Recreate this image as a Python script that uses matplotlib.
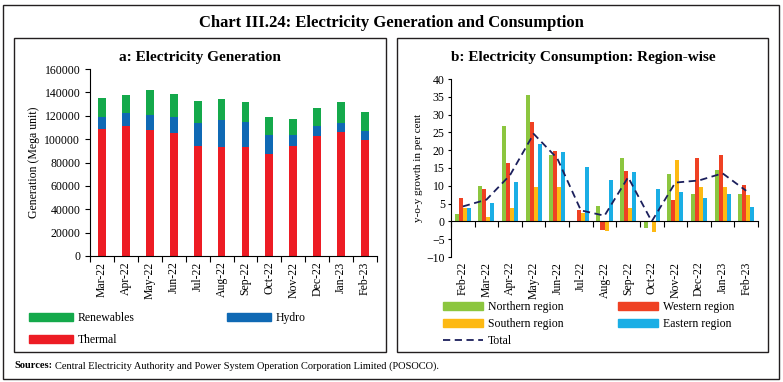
import numpy as np
import matplotlib
matplotlib.use('Agg')
import matplotlib.pyplot as plt
from matplotlib.patches import Rectangle
from matplotlib.lines import Line2D

plt.rcParams['font.family'] = ['Liberation Serif', 'DejaVu Serif']

# panel a: electricity generation (Mega unit)
gen_months = ['Mar-22', 'Apr-22', 'May-22', 'Jun-22', 'Jul-22', 'Aug-22',
              'Sep-22', 'Oct-22', 'Nov-22', 'Dec-22', 'Jan-23', 'Feb-23']
thermal = [108300, 111200, 108000, 104900, 94300, 92900, 93100, 87700, 94300, 102800, 106300, 99100]
hydro = [10800, 11400, 12600, 14200, 19200, 23400, 21500, 16000, 9400, 8400, 7700, 7800]
renewables = [15900, 15400, 21400, 19800, 19400, 18300, 17400, 14900, 13700, 15700, 18000, 16300]

# panel b: y-o-y growth in consumption by region (per cent)
cons_months = ['Feb-22', 'Mar-22', 'Apr-22', 'May-22', 'Jun-22', 'Jul-22', 'Aug-22',
               'Sep-22', 'Oct-22', 'Nov-22', 'Dec-22', 'Jan-23', 'Feb-23']
northern = [2.0, 10.0, 26.9, 35.5, 18.6, 0.0, 4.2, 17.7, -1.9, 13.2, 7.8, 14.5, 7.8]
western = [6.7, 9.2, 16.4, 27.8, 19.8, 3.3, -2.3, 14.2, 0.0, 5.9, 17.9, 18.6, 10.2]
southern = [3.9, 1.1, 3.7, 9.6, 9.6, 2.5, -2.8, 3.8, -3.0, 17.3, 9.7, 9.6, 7.5]
eastern = [3.7, 5.3, 11.2, 21.8, 19.4, 15.4, 11.6, 14.0, 9.2, 8.2, 6.6, 7.6, 4.0]
total = [4.2, 6.1, 13.0, 24.6, 17.7, 3.1, 1.6, 12.4, 0.0, 10.9, 11.5, 13.5, 8.6]

W, H = 783, 382
fig = plt.figure(figsize=(W / 100, H / 100), dpi=100)

C_REN, C_HYD, C_THE = '#14A94B', '#0F69B4', '#ED1C24'
C_N, C_W, C_S, C_E, C_T = '#8CC63F', '#EF4123', '#FDB913', '#1AAEE5', '#1B1F5C'
TOTAL_LS = (0, (4, 2.5))


def box(x0, y0, x1, y1, lw=1.0):
    fig.patches.append(Rectangle((x0 / W, 1 - y1 / H), (x1 - x0) / W, (y1 - y0) / H,
                                 transform=fig.transFigure, fill=False,
                                 edgecolor='#231f20', linewidth=lw))


def legend_col(handles, labels, x, y, hl, ls):
    # x, y: pixel position of top-left of the handle column
    fig.legend(handles, labels, frameon=False, loc='upper left',
               bbox_to_anchor=(x / W, 1 - y / H), fontsize=8.5,
               handlelength=hl, handleheight=0.6, borderpad=0, borderaxespad=0,
               labelspacing=ls, handletextpad=0.4)


box(3, 5, 779, 379)
box(14, 38, 386, 352)
box(397, 38, 768, 352)

fig.text(391 / W, 1 - 23 / H, 'Chart III.24: Electricity Generation and Consumption',
         ha='center', va='center', fontsize=12, fontweight='bold')

# ---- panel a
ax1 = fig.add_axes([90 / W, 1 - 256 / H, 287 / W, 187 / H])
x = np.arange(len(gen_months))
bw = 0.33
ax1.bar(x, thermal, bw, color=C_THE)
ax1.bar(x, hydro, bw, bottom=thermal, color=C_HYD)
base = np.array(thermal) + np.array(hydro)
ax1.bar(x, renewables, bw, bottom=base, color=C_REN)
ax1.set_xlim(-0.5, len(gen_months) - 0.5)
ax1.set_ylim(0, 160000)
ax1.set_yticks(range(0, 160001, 20000))
ax1.set_xticks(x)
ax1.set_xticklabels(gen_months)
ax1.set_xticks(np.arange(-0.5, len(gen_months), 1), minor=True)
ax1.tick_params(axis='x', which='major', length=0, labelsize=8.5, pad=4, labelrotation=90)
ax1.tick_params(axis='x', which='minor', length=4, width=0.8)
ax1.tick_params(axis='y', labelsize=8.5, length=3.5, width=0.8)
for s in ['top', 'right']:
    ax1.spines[s].set_visible(False)
ax1.set_ylabel('Generation (Mega unit)', fontsize=8.5, labelpad=3)
fig.text(200 / W, 1 - 57 / H, 'a: Electricity Generation', ha='center', va='center',
         fontsize=11, fontweight='bold')

legend_col([Rectangle((0, 0), 1, 1, color=C_REN), Rectangle((0, 0), 1, 1, color=C_THE)],
           ['Renewables', 'Thermal'], 29, 312, 3.7, 0.85)
legend_col([Rectangle((0, 0), 1, 1, color=C_HYD)], ['Hydro'], 227, 312, 3.7, 0.85)

# ---- panel b
ax2 = fig.add_axes([451 / W, 1 - 257 / H, 307 / W, 178 / H])
xc = np.arange(len(cons_months))
w = 0.17
ax2.bar(xc - 1.5 * w, northern, w, color=C_N)
ax2.bar(xc - 0.5 * w, western, w, color=C_W)
ax2.bar(xc + 0.5 * w, southern, w, color=C_S)
ax2.bar(xc + 1.5 * w, eastern, w, color=C_E)
ax2.plot(xc, total, color=C_T, linestyle=TOTAL_LS, linewidth=1.3)
ax2.set_xlim(-0.5, len(cons_months) - 0.5)
ax2.set_ylim(-10, 40)
ax2.spines['bottom'].set_position(('data', 0))
ax2.set_yticks(range(-10, 41, 5))
ax2.set_xticks(xc)
ax2.set_xticklabels(cons_months)
ax2.set_xticks(np.arange(-0.5, len(cons_months), 1), minor=True)
ax2.tick_params(axis='x', which='major', length=0, labelsize=8.5, pad=29, labelrotation=90)
ax2.tick_params(axis='x', which='minor', length=4, width=0.8)
ax2.tick_params(axis='y', labelsize=8.5, length=2.5, width=0.8, pad=2)
for s in ['top', 'right']:
    ax2.spines[s].set_visible(False)
ax2.set_ylabel('y-o-y growth in per cent', fontsize=8, labelpad=2)
fig.text(583 / W, 1 - 57 / H, 'b: Electricity Consumption: Region-wise', ha='center',
         va='center', fontsize=11, fontweight='bold')

legend_col([Rectangle((0, 0), 1, 1, color=C_N), Rectangle((0, 0), 1, 1, color=C_S),
            Line2D([], [], color=C_T, linestyle=TOTAL_LS, linewidth=1.3)],
           ['Northern region', 'Southern region', 'Total'], 443, 301, 3.4, 0.42)
legend_col([Rectangle((0, 0), 1, 1, color=C_W), Rectangle((0, 0), 1, 1, color=C_E)],
           ['Western region', 'Eastern region'], 618, 301, 3.4, 0.42)

# sources line
t = fig.text(14 / W, 1 - 366 / H, 'Sources:', fontsize=7.5, fontweight='bold', va='center')
fig.canvas.draw()
bb = t.get_window_extent()
fig.text(bb.x1 / W + 3 / W, 1 - 366 / H,
         'Central Electricity Authority and Power System Operation Corporation Limited (POSOCO).',
         fontsize=7.5, va='center')

fig.savefig('out.png', dpi=100)
